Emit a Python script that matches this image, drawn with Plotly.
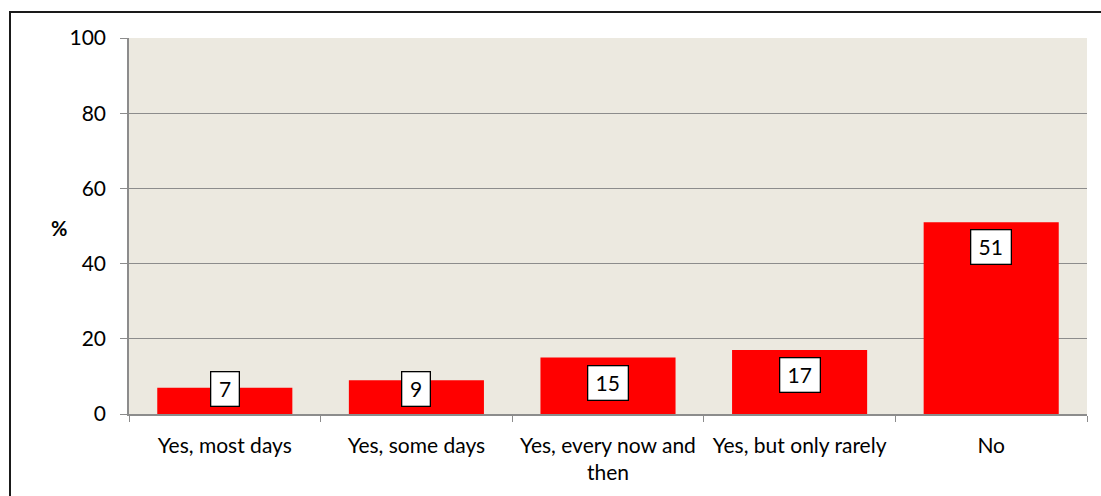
import plotly.graph_objects as go

categories = ["Yes, most days", "Yes, some days", "Yes, every now and<br>then",
              "Yes, but only rarely", "No"]
values = [7, 9, 15, 17, 51]
y_ticks = [0, 20, 40, 60, 80, 100]

FONT = "Lato, 'Open Sans', sans-serif"
W, H = 1101, 496
M_L, M_R, M_T, M_B = 129, 14, 38, 82
plot_w = W - M_L - M_R
plot_h = H - M_T - M_B
px_per_unit = plot_h / 100.0

fig = go.Figure(go.Bar(
    x=categories, y=values,
    marker=dict(color="#FF0000", line=dict(width=0)),
    hoverinfo="skip",
))

# value boxes: just inside the bar top, kept clear of the baseline for short bars
box_h = 36
gap = 7
low_limit = (box_h + 2 * gap) / px_per_unit
for cat, v in zip(categories, values):
    fig.add_annotation(
        x=cat, y=max(v, low_limit), yref="y", xref="x",
        yanchor="top", yshift=-gap,
        text=str(v), showarrow=False,
        font=dict(family=FONT, size=21, color="#000000"),
        bgcolor="#FFFFFF", bordercolor="#000000", borderwidth=1.3, borderpad=0,
        width=16 + 11.5 * len(str(v)), height=box_h - 3,
    )

# "%" axis label
fig.add_annotation(
    xref="paper", yref="paper",
    x=(49 - M_L) / plot_w, y=(H - M_B - 228) / plot_h,
    text="<b>%</b>", showarrow=False,
    font=dict(family=FONT, size=20, color="#000000"),
)

# chart area border
fig.add_shape(
    type="rect", xref="paper", yref="paper",
    x0=(10 - M_L) / plot_w, x1=(W + 5 - M_L) / plot_w,
    y0=(H - M_B - (H + 5)) / plot_h, y1=(H - M_B - 12) / plot_h,
    line=dict(color="#1A1A1A", width=2), fillcolor="rgba(0,0,0,0)",
    layer="below",
)

fig.update_layout(
    width=W, height=H,
    margin=dict(l=M_L, r=M_R, t=M_T, b=M_B, pad=0),
    paper_bgcolor="#FFFFFF",
    plot_bgcolor="#ECE9E0",
    bargap=0.295,
    showlegend=False,
    font=dict(family=FONT, size=21, color="#000000"),
    xaxis=dict(
        showline=True, linecolor="#8C8C8C", linewidth=1.5,
        ticks="outside", tickson="boundaries", ticklen=6, tickcolor="#8C8C8C",
        showgrid=False, tickfont=dict(family=FONT, size=21, color="#000000"),
        ticklabelstandoff=12,
    ),
    yaxis=dict(
        range=[0, 100], tickvals=y_ticks,
        showline=True, linecolor="#8C8C8C", linewidth=1.5,
        ticks="outside", ticklen=7, tickcolor="#8C8C8C",
        showgrid=True, gridcolor="#8C8C8C", gridwidth=1,
        zeroline=False,
        tickfont=dict(family=FONT, size=21, color="#000000"),
        ticklabelstandoff=10,
    ),
)

fig.write_html("out.html")
